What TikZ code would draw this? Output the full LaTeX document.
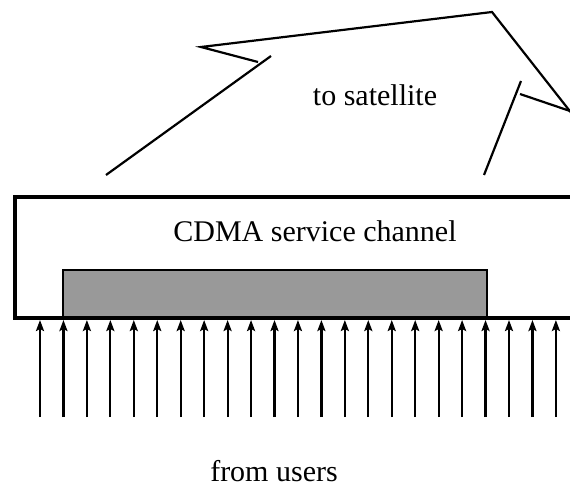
\documentclass[tikz,border=0pt]{standalone}
\usepackage{fontspec}
\setmainfont{Liberation Serif}
\usetikzlibrary{arrows.meta}

\begin{document}
\begin{tikzpicture}[x=1pt,y=-1pt,line width=2.2pt,>={Stealth[length=11pt,width=8pt,inset=2pt]},
  lbl/.style={font=\fontsize{30}{36}\selectfont,anchor=base,inner sep=0pt}]
  \useasboundingbox (0,0) rectangle (570,489);
  % enlace: hacia el satelite
  \draw (106,175)--(271,56);
  \draw[line join=miter] (258,62)--(201,47)--(492,12)--(580,124);
  \draw (570,111)--(520,94);
  \draw (521,81)--(484,175);
  \node[lbl] (up) at (375,106){to satellite};
  % canal de servicio
  \fill[black!40] (63,270) rectangle (487,318);
  \draw (63,318)--(63,270)--(487,270)--(487,318);
  \draw[line width=3.2pt] (575,197)--(15,197)--(15,318);
  \draw[line width=4.2pt] (13.4,318)--(575,318);
  \node[lbl] (chan) at (315,241){CDMA service channel};
  % usuarios: flechas de entrada
  \foreach \k in {0,...,22}{
    \coordinate (u\k) at ({40+23.45*\k},417);
    \coordinate (t\k) at ({40+23.45*\k},320);
    \draw[->] (u\k)--(t\k);
  }
  \node[lbl] (users) at (274,481){from users};
\end{tikzpicture}
\end{document}
